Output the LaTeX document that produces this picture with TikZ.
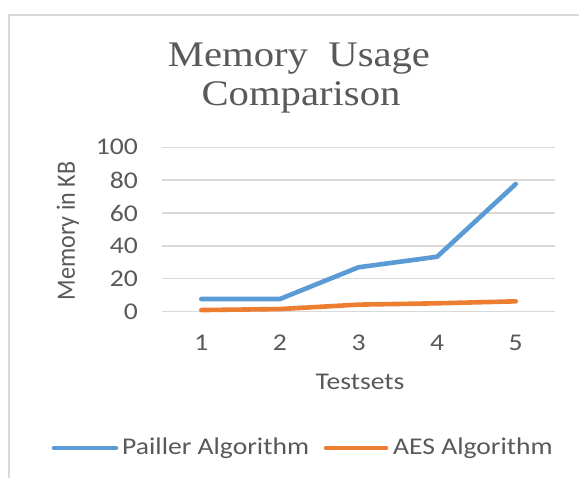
\documentclass[tikz,border=0pt]{standalone}
\usepackage{graphicx}
\usepackage{fontspec}
\setmainfont{Carlito}
\newfontfamily\titlefont{Liberation Serif}
\definecolor{txtgrey}{HTML}{595959}
\definecolor{gridgrey}{HTML}{D9D9D9}
\definecolor{pblue}{HTML}{5B9BD5}
\definecolor{porange}{HTML}{ED7D31}
\newcommand{\wide}[1]{\scalebox{1.15}[1]{#1}}
\begin{document}
\begin{tikzpicture}[x=1pt,y=-1pt,
  lbl/.style={text=txtgrey,font=\fontsize{24}{28}\selectfont,inner sep=0pt},
  grid line/.style={gridgrey,line width=1.3pt},
  series/.style={line width=4.6pt,line cap=round,line join=round}]
\useasboundingbox (0,0) rectangle (579,478);
\fill[white] (0,0) rectangle (579,478);
% outer frame
\draw[gridgrey,line width=2pt] (9,478) -- (9,15) -- (579,15);
% title
\node[text=txtgrey,inner sep=0pt,anchor=base] (title1) at (299,66.7)
  {\scalebox{1.13}[1]{\titlefont\fontsize{36}{40}\selectfont Memory\ \ Usage}};
\node[text=txtgrey,inner sep=0pt,anchor=base] (title2) at (301,106)
  {\scalebox{1.13}[1]{\titlefont\fontsize{36}{40}\selectfont Comparison}};
% gridlines and y labels
\foreach \v in {0,20,...,100}{
  \pgfmathsetmacro{\yy}{311.7-\v*1.645}
  \draw[grid line] (162,\yy) -- (555,\yy);
  \node[lbl,anchor=east] (y\v) at (138,\yy) {\wide{\v}};
}
% x labels
\foreach \i/\xx in {1/201.3,2/279.9,3/358.5,4/437.1,5/515.7}{
  \node[lbl] (x\i) at (\xx,343) {\wide{\i}};
}
\node[lbl] (xtitle) at (360,382) {\wide{Testsets}};
\node[lbl,rotate=90] (ytitle) at (68,231) {\scalebox{1}[1.1]{Memory in KB}};
% series
\draw[series,pblue] (201.3,{311.7-7.7*1.645}) -- (279.9,{311.7-7.7*1.645}) -- (358.5,{311.7-27*1.645}) -- (437.1,{311.7-33.4*1.645}) -- (515.7,{311.7-77.6*1.645});
\draw[series,porange] (201.3,{311.7-1*1.645}) -- (279.9,{311.7-1.6*1.645}) -- (358.5,{311.7-4.3*1.645}) -- (437.1,{311.7-5.1*1.645}) -- (515.7,{311.7-6.3*1.645});
% legend
\coordinate (lb1) at (54,448);
\coordinate (lb2) at (116,448);
\draw[series,pblue] (lb1) -- (lb2);
\node[lbl,anchor=west] (leg1) at (122,448) {\wide{Pailler Algorithm}};
\coordinate (lo1) at (326,448);
\coordinate (lo2) at (386,448);
\draw[series,porange] (lo1) -- (lo2);
\node[lbl,anchor=west] (leg2) at (393,448) {\wide{AES Algorithm}};
\end{tikzpicture}
\end{document}
